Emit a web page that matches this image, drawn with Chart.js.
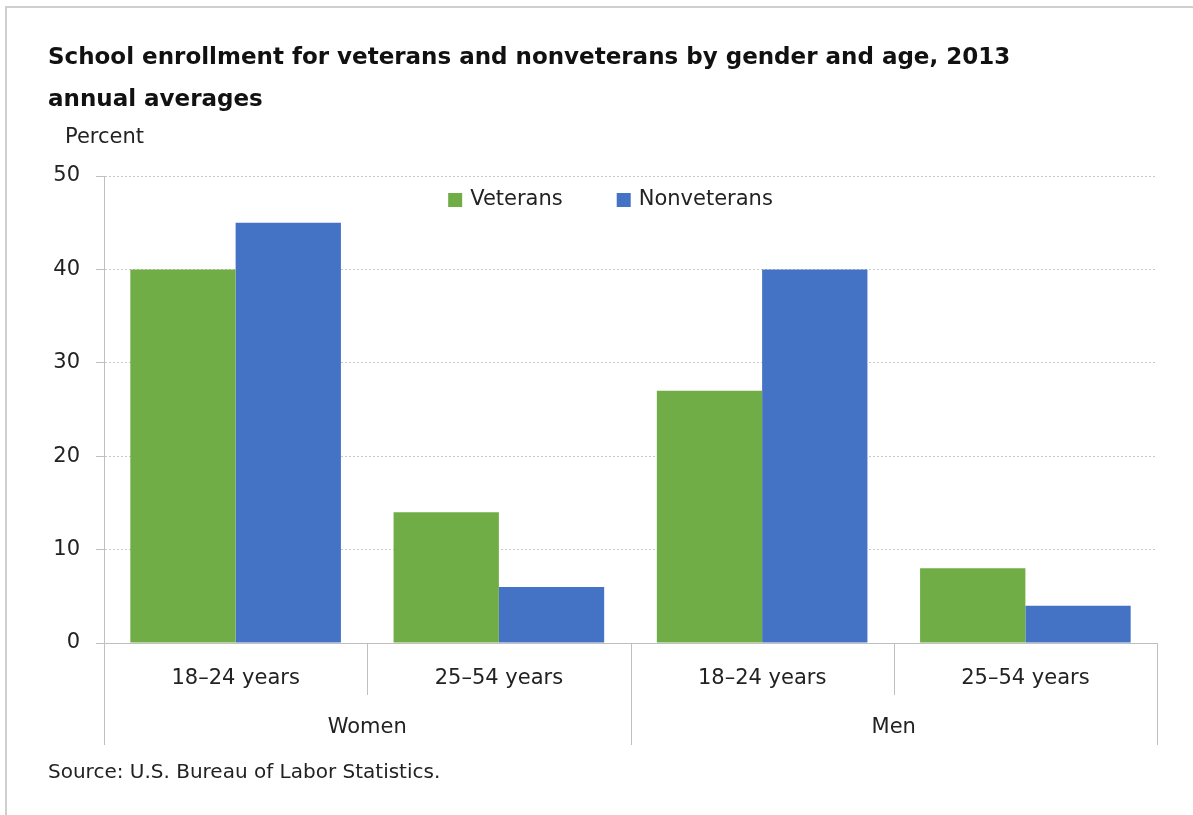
<!DOCTYPE html>
<html>
<head>
<meta charset="utf-8">
<title>School enrollment for veterans and nonveterans</title>
<script src="https://cdn.jsdelivr.net/npm/chart.js@4/dist/chart.umd.min.js"></script>
<style>
  html, body { margin: 0; padding: 0; background: #fff; }
  #frame { position: absolute; left: 5px; top: 6px; right: 0; bottom: 0;
           border-top: 2px solid #cfcfcf; border-left: 2px solid #cfcfcf; }
  #wrap { position: absolute; left: 0; top: 0; width: 1193px; height: 815px; }
</style>
</head>
<body>
<div id="frame"></div>
<div id="wrap"><canvas id="chart"></canvas></div>
<script>
// ── Data ────────────────────────────────────────────────────
const ageLabels   = ['18–24 years', '25–54 years', '18–24 years', '25–54 years'];
const genderGroups = ['Women', 'Men'];
const groupSize   = 2; // age categories per gender
const veterans    = [40, 14, 27, 8];
const nonveterans = [45, 6, 40, 4];
const seriesNames = ['Veterans', 'Nonveterans'];
const yTicks      = { min: 0, max: 50, step: 10 };

const GREEN = '#70ad47';
const BLUE  = '#4472c4';
const TEXT  = '#222';
const LINE  = '#bfbfbf';
const FONT  = 'DejaVu Sans';

// ── Extra drawing: group labels, separators, "Percent", legend ──
const extras = {
  id: 'extras',
  afterDraw(chart) {
    const { ctx, chartArea } = chart;
    const xs = chart.scales.x;
    const n = xs.ticks.length;
    const half = (xs.right - xs.left) / n / 2;
    const base = chartArea.bottom;

    ctx.save();
    ctx.strokeStyle = LINE;
    ctx.lineWidth = 1;
    // category separators (short) and group separators (long)
    for (let i = 0; i <= n; i++) {
      const px = i < n ? xs.getPixelForTick(i) - half : xs.getPixelForTick(n - 1) + half;
      const long = i % groupSize === 0;
      ctx.beginPath();
      ctx.moveTo(Math.round(px) + 0.5, base);
      ctx.lineTo(Math.round(px) + 0.5, base + (long ? 102 : 52));
      ctx.stroke();
    }

    // gender labels under the age labels
    ctx.fillStyle = TEXT;
    ctx.font = `21px "${FONT}"`;
    ctx.textAlign = 'center';
    ctx.textBaseline = 'middle';
    genderGroups.forEach((g, gi) => {
      const a = xs.getPixelForTick(gi * groupSize);
      const b = xs.getPixelForTick(gi * groupSize + groupSize - 1);
      ctx.fillText(g, (a + b) / 2, base + 85);
    });

    // unit label above the value axis
    ctx.textAlign = 'left';
    ctx.fillText('Percent', 65, chartArea.top - 38);

    // legend inside the plot area
    const items = chart.data.datasets.map(ds => ({ text: ds.label, color: ds.backgroundColor }));
    const box = 14, gapBox = 8, gapItem = 54;
    const widths = items.map(it => box + gapBox + ctx.measureText(it.text).width);
    const total = widths.reduce((a, b) => a + b, 0) + gapItem * (items.length - 1);
    let lx = (chartArea.left + chartArea.right) / 2 - 20 - total / 2;
    const ly = chartArea.top + 24;
    items.forEach((it, i) => {
      ctx.fillStyle = it.color;
      ctx.fillRect(lx, ly - box / 2, box, box);
      ctx.fillStyle = TEXT;
      ctx.fillText(it.text, lx + box + gapBox, ly);
      lx += widths[i] + gapItem;
    });
    ctx.restore();
  }
};

// ── Chart ───────────────────────────────────────────────────
new Chart(document.getElementById('chart'), {
  type: 'bar',
  data: {
    labels: ageLabels,
    datasets: [
      { label: seriesNames[0], data: veterans, backgroundColor: GREEN },
      { label: seriesNames[1], data: nonveterans, backgroundColor: BLUE }
    ]
  },
  options: {
    responsive: true, maintainAspectRatio: false,
    animation: false,
    datasets: { bar: { categoryPercentage: 0.8, barPercentage: 1.0, borderWidth: 0 } },
    layout: { padding: { left: 48, right: 36, top: 0, bottom: 0 } },
    scales: {
      x: {
        grid: { display: false, drawTicks: false },
        border: { display: true, color: LINE, width: 1 },
        ticks: { color: TEXT, font: { family: FONT, size: 21 }, padding: 23, maxRotation: 0 },
        afterFit: s => { s.height = 102; }
      },
      y: {
        min: yTicks.min, max: yTicks.max,
        grid: { color: '#c8c8c8', tickLength: 8, tickColor: LINE, tickBorderDash: [] },
        border: { display: true, color: LINE, width: 1, dash: [2, 2] },
        ticks: { stepSize: yTicks.step, color: TEXT, font: { family: FONT, size: 21 }, padding: 16 },
        afterFit: s => { s.width = 56; }
      }
    },
    plugins: {
      legend: { display: false },
      tooltip: { enabled: false },
      title: {
        display: true,
        align: 'start',
        text: ['School enrollment for veterans and nonveterans by gender and age, 2013', 'annual averages'],
        color: '#111',
        font: { family: FONT, size: 23, weight: 'bold', lineHeight: '42px' },
        padding: { top: 37, bottom: 55 }
      },
      subtitle: {
        display: true,
        position: 'bottom',
        align: 'start',
        text: 'Source: U.S. Bureau of Labor Statistics.',
        color: TEXT,
        font: { family: FONT, size: 20, lineHeight: '24px' },
        padding: { top: 16, bottom: 30 }
      }
    }
  },
  plugins: [extras]
});
</script>
</body>
</html>
